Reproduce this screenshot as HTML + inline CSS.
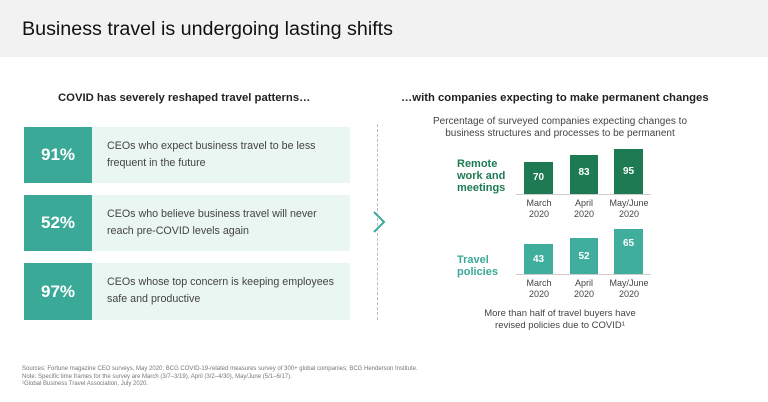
<!DOCTYPE html>
<html><head><meta charset="utf-8"><style>
body{margin:0;width:768px;height:402px;background:#fff;font-family:"Liberation Sans",sans-serif;position:relative;overflow:hidden}
.a{position:absolute}
.hdr{left:0;top:0;width:768px;height:57px;background:#f2f2f2}
.title{left:22px;top:18px;font-size:19.7px;color:#111}
.h2{font-weight:bold;font-size:11.3px;color:#222;white-space:nowrap}
.box{left:24px;width:326px;background:#e9f6f1}
.sq{left:0;top:0;width:68px;height:100%;background:#3aa998;color:#fff;font-weight:bold;font-size:17px;display:flex;align-items:center;justify-content:center}
.tx{left:83px;font-size:10.7px;color:#444;line-height:17px;white-space:nowrap}
.bar{color:#fff;font-weight:bold;font-size:10px;text-align:center}
.lbl{font-size:9px;color:#444;text-align:center;line-height:11px;width:50px}
</style></head><body>
<div class="a hdr"></div>
<div class="a title">Business travel is undergoing lasting shifts</div>
<div class="a h2" style="left:58px;top:92px">COVID has severely reshaped travel patterns…</div>
<div class="a h2" style="left:401px;top:92px">…with companies expecting to make permanent changes</div>

<div class="a box" style="top:127px;height:56px"><div class="a sq">91%</div><div class="a tx" style="top:11px">CEOs who expect business travel to be less<br>frequent in the future</div></div>
<div class="a box" style="top:195px;height:56px"><div class="a sq">52%</div><div class="a tx" style="top:11px">CEOs who believe business travel will never<br>reach pre-COVID levels again</div></div>
<div class="a box" style="top:263px;height:57px"><div class="a sq">97%</div><div class="a tx" style="top:11px">CEOs whose top concern is keeping employees<br>safe and productive</div></div>

<div class="a" style="left:377px;top:124px;height:196px;border-left:1px dashed #bbb"></div>
<svg class="a" style="left:370px;top:208px" width="20" height="30"><polyline points="4,4 14,14 4,24" fill="none" stroke="#3aa998" stroke-width="2"/></svg>

<div class="a" style="left:420px;top:116px;width:280px;text-align:center;font-size:10px;color:#444;line-height:12px">Percentage of surveyed companies expecting changes to<br>business structures and processes to be permanent</div>

<div class="a" style="left:457px;top:158px;font-size:11px;font-weight:bold;color:#1e7a52;line-height:12px">Remote<br>work and<br>meetings</div>
<div class="a bar" style="left:524px;top:162px;width:29px;height:32px;line-height:32px;background:#1e7a52">70</div>
<div class="a bar" style="left:570px;top:155px;width:28px;height:39px;line-height:36px;background:#1e7a52">83</div>
<div class="a bar" style="left:614px;top:149px;width:29px;height:45px;line-height:45px;background:#1e7a52">95</div>
<div class="a" style="left:516px;top:194px;width:135px;border-top:1px solid #ccc"></div>
<div class="a lbl" style="left:514px;top:198px">March<br>2020</div>
<div class="a lbl" style="left:559px;top:198px">April<br>2020</div>
<div class="a lbl" style="left:604px;top:198px">May/June<br>2020</div>

<div class="a" style="left:457px;top:254px;font-size:11px;font-weight:bold;color:#3aa998;line-height:12px">Travel<br>policies</div>
<div class="a bar" style="left:524px;top:244px;width:29px;height:30px;line-height:32px;background:#3fae9d">43</div>
<div class="a bar" style="left:570px;top:238px;width:28px;height:36px;line-height:38px;background:#3fae9d">52</div>
<div class="a bar" style="left:614px;top:229px;width:29px;height:45px;line-height:30px;background:#3fae9d">65</div>
<div class="a" style="left:516px;top:274px;width:135px;border-top:1px solid #ccc"></div>
<div class="a lbl" style="left:514px;top:278px">March<br>2020</div>
<div class="a lbl" style="left:559px;top:278px">April<br>2020</div>
<div class="a lbl" style="left:604px;top:278px">May/June<br>2020</div>

<div class="a" style="left:480px;top:308px;width:160px;text-align:center;font-size:9.5px;color:#444;line-height:12px">More than half of travel buyers have<br>revised policies due to COVID¹</div>

<div class="a" style="left:22px;top:366px;font-size:6px;color:#777;line-height:7.5px">Sources: Fortune magazine CEO surveys, May 2020; BCG COVID-19-related measures survey of 300+ global companies; BCG Henderson Institute.<br>Note: Specific time frames for the survey are March (3/7–3/19), April (3/2–4/30), May/June (5/1–6/17).<br>¹Global Business Travel Association, July 2020.</div>
</body></html>
